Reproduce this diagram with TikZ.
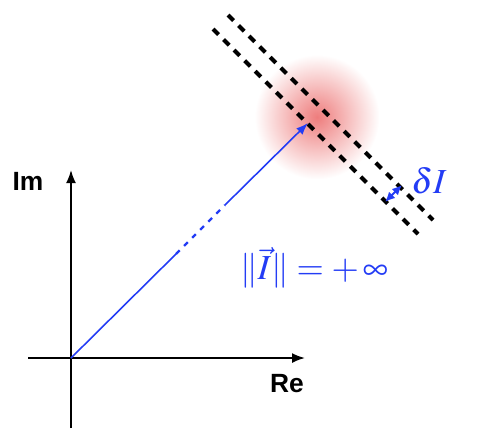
\documentclass[tikz,border=0pt]{standalone}
\usepackage{mathptmx}
\usepackage[no-math]{fontspec}
\setsansfont{Liberation Sans}
\usetikzlibrary{arrows.meta}
\definecolor{vecblue}{RGB}{35,60,245}
\definecolor{glowred}{RGB}{238,125,125}
\tikzset{
  axis/.style={-{Latex[length=2.6mm,width=2mm]}, line width=1pt, draw=black},
  vec/.style={line width=0.9pt, draw=vecblue},
  vecdash/.style={vec, line width=1.3pt, dash pattern=on 3pt off 3.5pt},
  vecarr/.style={vec, -{Latex[length=2.4mm,width=1.8mm]}},
  gaparr/.style={vec, line width=1.2pt, {Latex[length=2mm,width=1.8mm]}-{Latex[length=2mm,width=1.8mm]}},
  level/.style={line width=2.4pt, dash pattern=on 4.5pt off 4pt},
  axlbl/.style={font=\sffamily\bfseries\fontsize{15}{18}\selectfont, inner sep=0pt},
  mathlbl/.style={text=vecblue, font=\fontsize{20}{24}\selectfont, inner sep=0pt},
}
\begin{document}
\begin{tikzpicture}[x=0.02cm,y=-0.02cm]
  \useasboundingbox (0,0) rectangle (481,434);
  % glow around the tip
  \coordinate (G) at (317,117);
  \shade[inner color=glowred, outer color=white] (G) circle (1.25cm);
  % axes
  \coordinate (O) at (71,358);
  \coordinate (xl) at (28,358);
  \coordinate (xr) at (305,358);
  \coordinate (yb) at (71,428);
  \coordinate (yt) at (71,170);
  \draw[axis] (xl) -- (xr);
  \draw[axis] (yb) -- (yt);
  \node[axlbl] (im) at (28,181) {Im};
  \node[axlbl] (re) at (287,384) {Re};
  % level lines
  \coordinate (a1) at (228,15);
  \coordinate (a2) at (433,220);
  \coordinate (b1) at (213,29);
  \coordinate (b2) at (418,234);
  \draw[level] (a1) -- (a2);
  \draw[level] (b1) -- (b2);
  % the vector
  \coordinate (v1) at (176,254);
  \coordinate (v2) at (225,205);
  \coordinate (tip) at (308,123);
  \draw[vec] (O) -- (v1);
  \draw[vecdash] (v1) -- (v2);
  \draw[vecarr] (v2) -- (tip);
  % gap between the lines
  \coordinate (g1) at (385,202);
  \coordinate (g2) at (402,185);
  \draw[gaparr] (g1) -- (g2);
  \node[mathlbl, anchor=west] (dI) at (411,181) {$\delta I$};
  \node[mathlbl] (norm) at (314,268) {$\|\vec{I}\| = +\,\infty$};
\end{tikzpicture}
\end{document}
